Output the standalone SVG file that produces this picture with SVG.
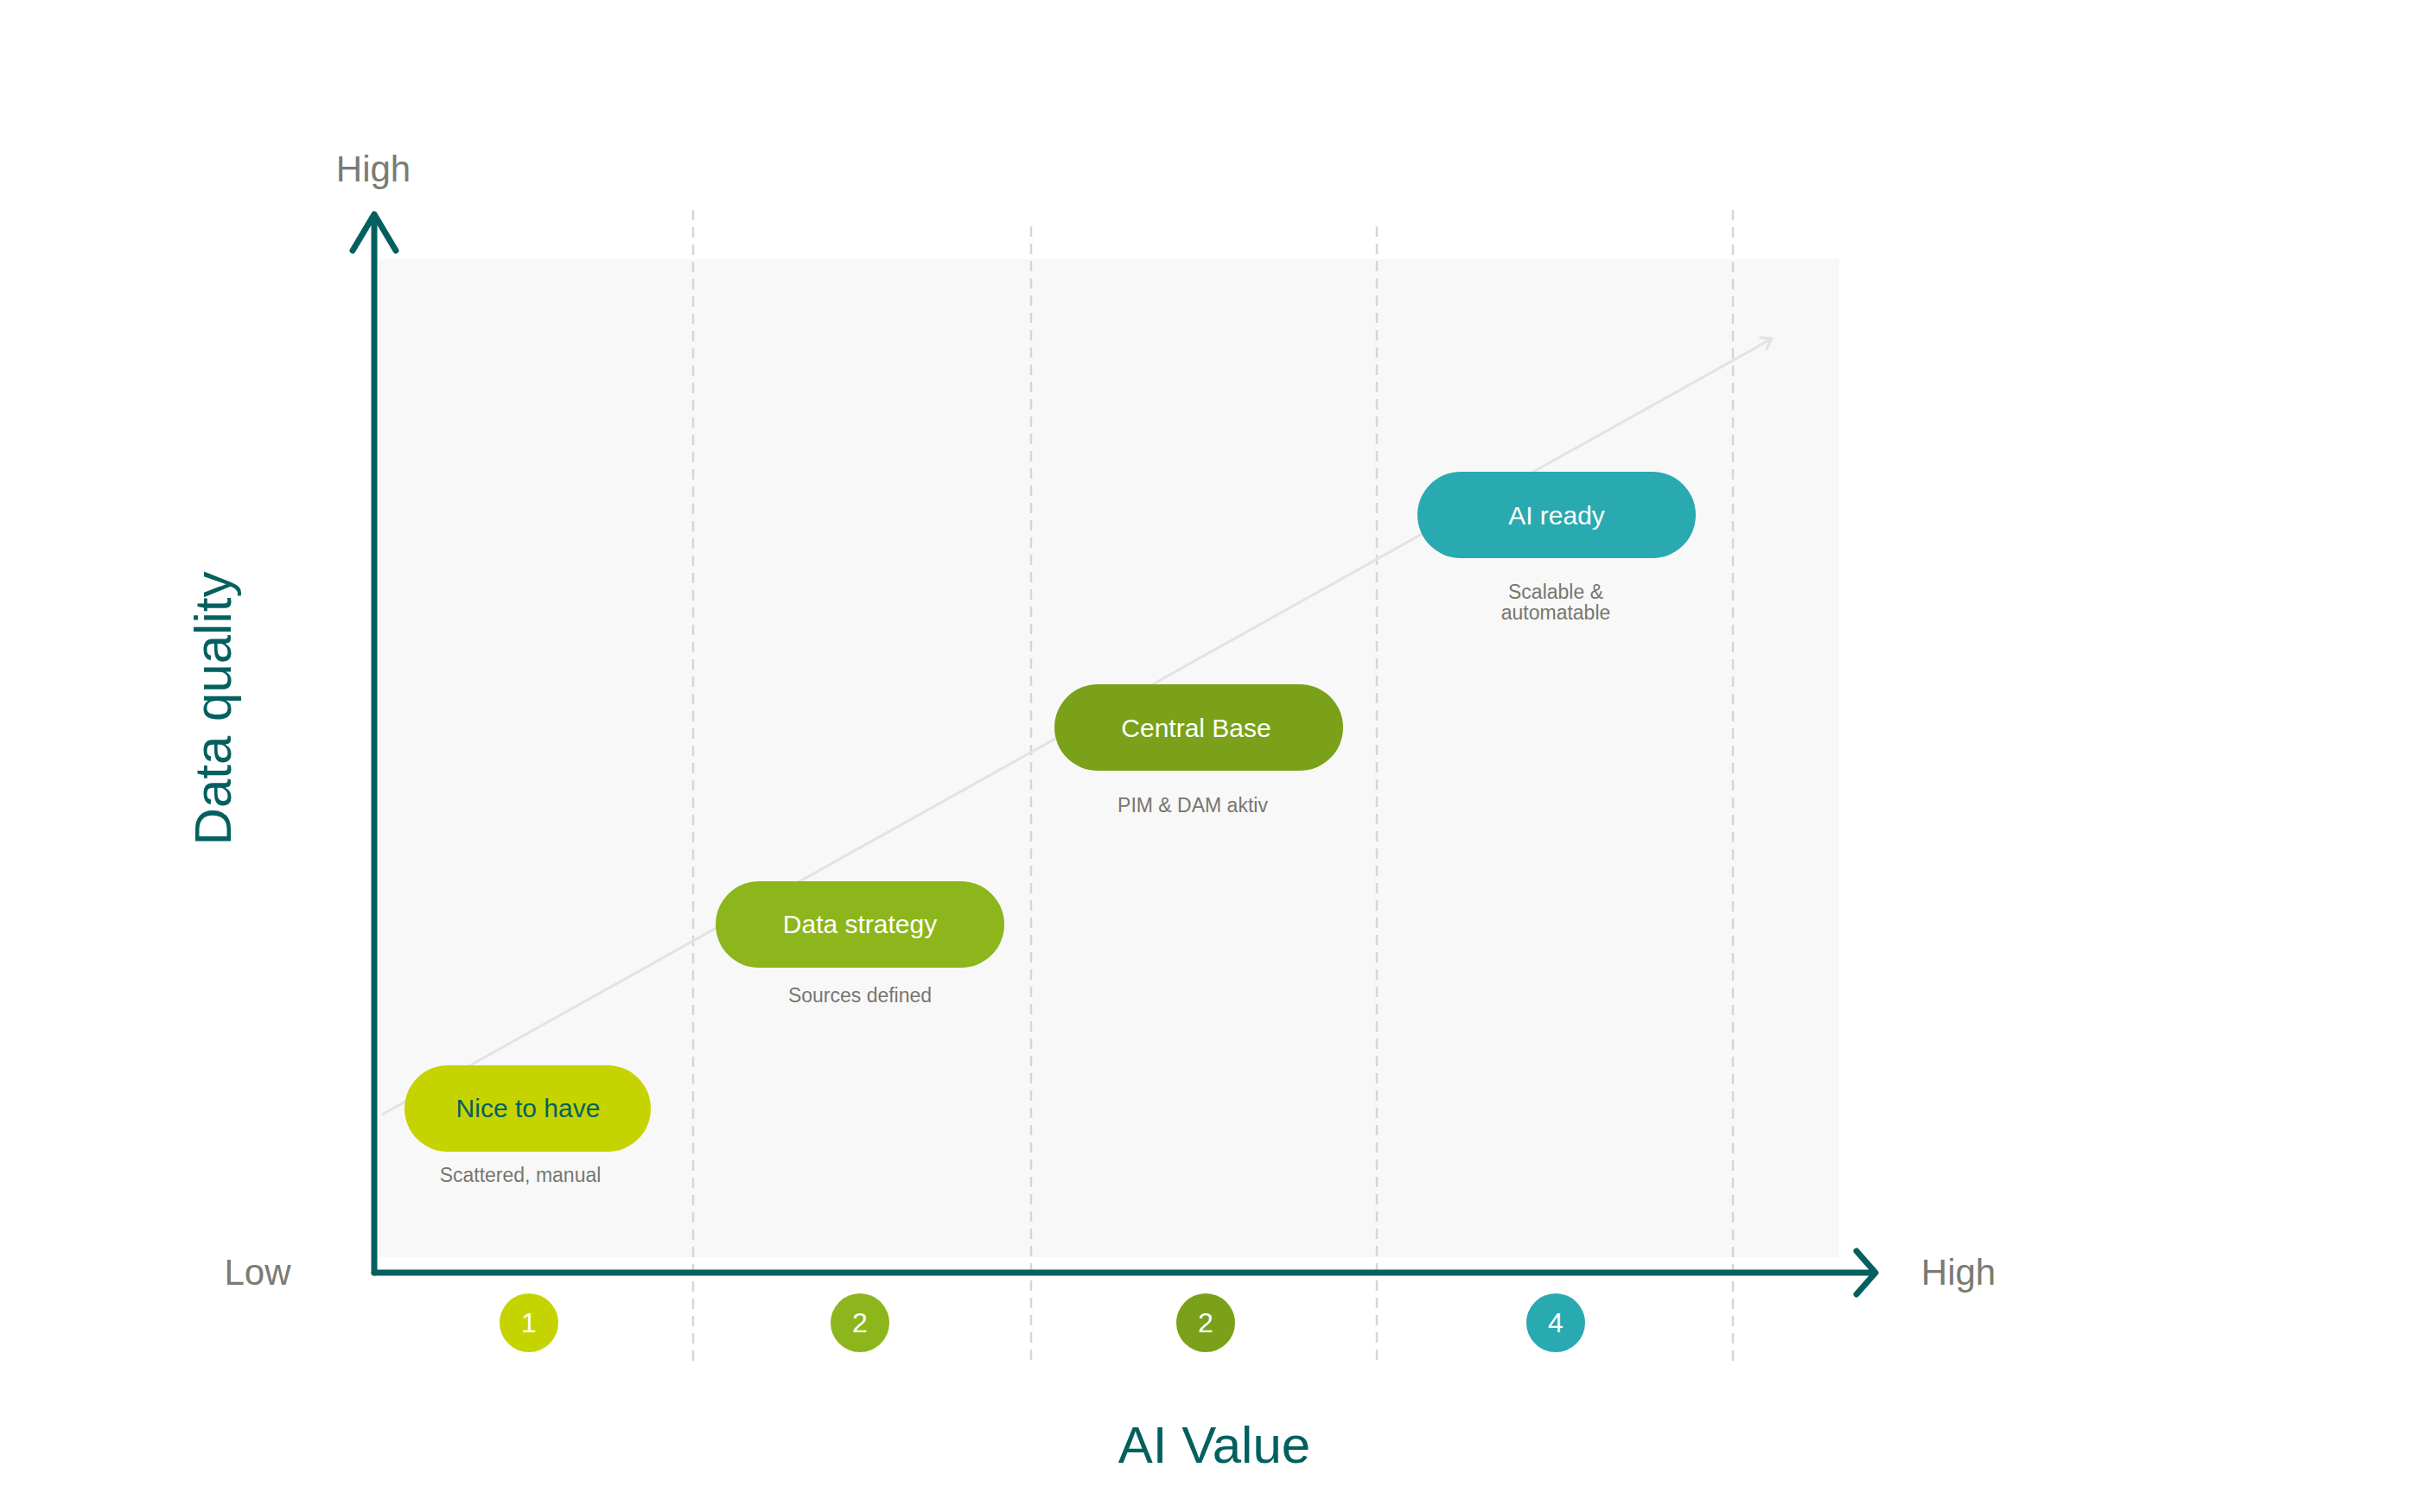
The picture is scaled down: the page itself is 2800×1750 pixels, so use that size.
<svg xmlns="http://www.w3.org/2000/svg" width="2800" height="1750" viewBox="0 0 2800 1750">
<style>
text{font-family:"Liberation Sans",Arial,sans-serif;text-anchor:middle}
.ax{fill:#7b7b74;font-size:42px}
.pill{font-size:30px;fill:#fff}
.sub{font-size:23px;fill:#77776f}
.num{font-size:32px;fill:#fff}
.dash{stroke:#d6d6d6;stroke-width:2.5;stroke-dasharray:12 8}
.axis{stroke:#03605f;stroke-width:7;fill:none;stroke-linecap:round;stroke-linejoin:round}
</style>
<defs><marker id="ah" markerWidth="20" markerHeight="20" refX="14" refY="10" orient="auto" markerUnits="userSpaceOnUse"><path d="M2 2 L14 10 L2 18" fill="none" stroke="#e3e3e3" stroke-width="3"/></marker></defs>
<rect x="0" y="0" width="2800" height="1750" fill="#fff"/>
<rect x="432" y="300" width="1696" height="1155" fill="#f8f8f8"/>
<g id="grid">
<line class="dash" x1="802" y1="243" x2="802" y2="1580"/>
<line class="dash" x1="1193" y1="262" x2="1193" y2="1582"/>
<line class="dash" x1="1593" y1="262" x2="1593" y2="1582"/>
<line class="dash" x1="2005" y1="243" x2="2005" y2="1582"/>
</g>
<g id="connectors">
<line x1="442" y1="1290" x2="2050" y2="392" stroke="#e3e3e3" stroke-width="3" marker-end="url(#ah)"/>
</g>
<g id="axes">
<path class="axis" d="M433 1473 L433 248 M408 290 L433 248 L458 290"/>
<path class="axis" d="M433 1473 L2168 1473 M2148 1448 L2170 1473 L2148 1498"/>
<text class="ax" x="432" y="210">High</text>
<text class="ax" x="298" y="1487">Low</text>
<text class="ax" x="2266" y="1487">High</text>
<text x="1405" y="1693" style="font-size:60px;fill:#03605f">AI Value</text>
<text transform="translate(267 820) rotate(-90)" style="font-size:60px;fill:#03605f">Data quality</text>
</g>
<g id="n1"><rect x="468" y="1233" width="285" height="100" rx="50" fill="#c5d400"/><text class="pill" x="611" y="1293" style="fill:#03605f">Nice to have</text><text class="sub" x="602" y="1368">Scattered, manual</text></g>
<g id="n2"><rect x="828" y="1020" width="334" height="100" rx="50" fill="#8db51c"/><text class="pill" x="995" y="1080">Data strategy</text><text class="sub" x="995" y="1160">Sources defined</text></g>
<g id="n3"><rect x="1220" y="792" width="334" height="100" rx="50" fill="#7aa119"/><text class="pill" x="1384" y="853">Central Base</text><text class="sub" x="1380" y="940">PIM &amp; DAM aktiv</text></g>
<g id="n4"><rect x="1640" y="546" width="322" height="100" rx="50" fill="#29a9b0"/><text class="pill" x="1801" y="607">AI ready</text><text class="sub" x="1800" y="693">Scalable &amp;</text><text class="sub" x="1800" y="717">automatable</text></g>
<g id="c1"><circle cx="612" cy="1531" r="34" fill="#c5d400"/><text class="num" x="612" y="1542">1</text></g>
<g id="c2"><circle cx="995" cy="1531" r="34" fill="#8db51c"/><text class="num" x="995" y="1542">2</text></g>
<g id="c3"><circle cx="1395" cy="1531" r="34" fill="#7aa119"/><text class="num" x="1395" y="1542">2</text></g>
<g id="c4"><circle cx="1800" cy="1531" r="34" fill="#29a9b0"/><text class="num" x="1800" y="1542">4</text></g>
</svg>
